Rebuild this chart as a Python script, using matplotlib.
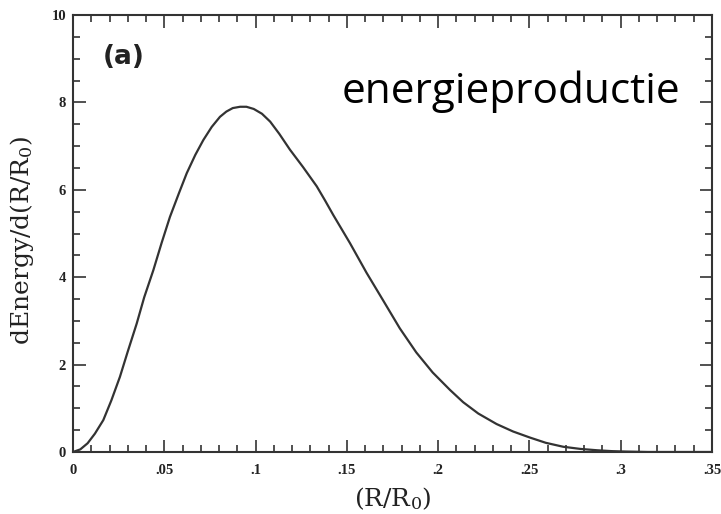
import matplotlib
matplotlib.use("Agg")
import matplotlib.pyplot as plt
from matplotlib.ticker import MultipleLocator, FixedLocator, FixedFormatter

plt.rcParams["mathtext.fontset"] = "custom"
plt.rcParams["mathtext.rm"] = "DejaVu Serif"
plt.rcParams["mathtext.it"] = "DejaVu Serif"

# Data
r_ratio = [0.0, 0.004, 0.008, 0.012, 0.0166, 0.021, 0.0257, 0.030, 0.0349, 0.039,
           0.044, 0.0485, 0.0531, 0.058, 0.0623, 0.067, 0.0714, 0.076, 0.0805,
           0.084, 0.0875, 0.0915, 0.095, 0.099, 0.1035, 0.108, 0.113, 0.1188,
           0.126, 0.1335, 0.138, 0.1426, 0.1517, 0.1608, 0.170, 0.179, 0.188,
           0.197, 0.2065, 0.2137, 0.222, 0.232, 0.241, 0.2503, 0.259, 0.2685,
           0.278, 0.287, 0.295, 0.303, 0.315, 0.330, 0.350]
d_energy = [0.0, 0.06, 0.20, 0.42, 0.73, 1.18, 1.72, 2.30, 2.94, 3.54,
            4.16, 4.78, 5.38, 5.92, 6.38, 6.80, 7.14, 7.44, 7.67,
            7.79, 7.87, 7.90, 7.90, 7.85, 7.74, 7.56, 7.28, 6.92,
            6.52, 6.08, 5.76, 5.42, 4.78, 4.10, 3.46, 2.83, 2.28,
            1.82, 1.42, 1.14, 0.88, 0.64, 0.47, 0.33, 0.21, 0.12,
            0.07, 0.04, 0.02, 0.01, 0.0, 0.0, 0.0]

xtick_vals = [0, 0.05, 0.1, 0.15, 0.2, 0.25, 0.3, 0.35]
xtick_labels = ["0", ".05", ".1", ".15", ".2", ".25", ".3", ".35"]
ytick_vals = [0, 2, 4, 6, 8, 10]
ytick_labels = ["0", "2", "4", "6", "8", "10"]

fig = plt.figure(figsize=(7.21, 5.14), dpi=100)
ax = fig.add_axes([73/721, 62/514, 639/721, 437/514])

ax.plot(r_ratio, d_energy, color="#333333", lw=1.6)
ax.set_xlim(0, 0.35)
ax.set_ylim(0, 10)

ax.xaxis.set_major_locator(FixedLocator(xtick_vals))
ax.xaxis.set_major_formatter(FixedFormatter(xtick_labels))
ax.xaxis.set_minor_locator(MultipleLocator(0.01))
ax.yaxis.set_major_locator(FixedLocator(ytick_vals))
ax.yaxis.set_major_formatter(FixedFormatter(ytick_labels))
ax.yaxis.set_minor_locator(MultipleLocator(0.5))

ax.tick_params(which="both", direction="in", top=True, right=True,
               color="#333333", width=1.2, labelcolor="#222222")
ax.tick_params(which="major", length=9)
ax.tick_params(axis="x", which="major", pad=9)
ax.tick_params(axis="y", which="major", pad=5)
ax.tick_params(which="minor", length=5)
for lab in ax.get_xticklabels() + ax.get_yticklabels():
    lab.set_family("Liberation Serif")
    lab.set_fontsize(10.5)
    lab.set_fontweight("bold")
for s in ax.spines.values():
    s.set_linewidth(1.5)
    s.set_color("#333333")

ax.set_xlabel(r"(R/R$_0$)", family="DejaVu Serif", fontsize=18,
              color="#222222")
ax.set_ylabel(r"dEnergy/d(R/R$_0$)", family="DejaVu Serif", fontsize=18,
              color="#222222")
ax.xaxis.set_label_coords(0.5, -0.076)
ax.yaxis.set_label_coords(-0.058, 0.485)

ax.text(0.080, 0.904, "(a)", transform=ax.transAxes, fontsize=19,
        family="DejaVu Sans", fontweight="bold", color="#222222",
        ha="center", va="center")
ax.text(0.950, 0.799, "energieproductie", transform=ax.transAxes,
        fontsize=30.5, family="Open Sans", color="black",
        ha="right", va="baseline")

fig.savefig("out.png", dpi=100, facecolor="white")
